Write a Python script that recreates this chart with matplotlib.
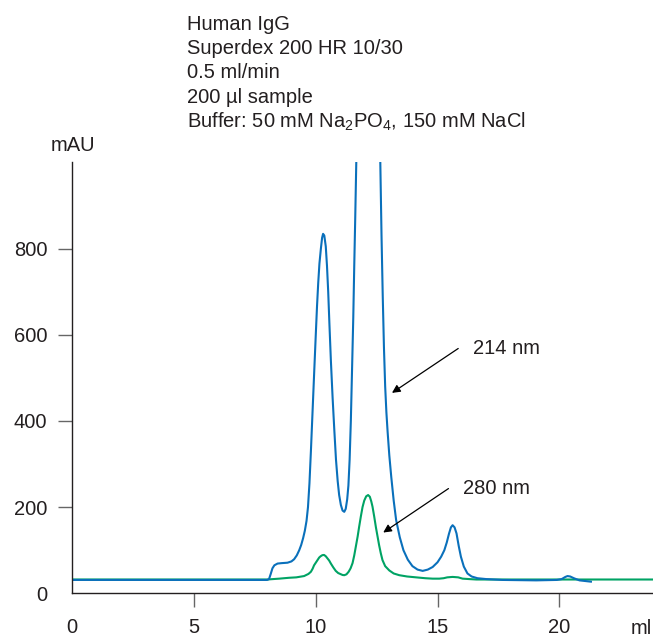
import matplotlib
matplotlib.use("Agg")
import matplotlib.pyplot as plt

plt.rcParams['font.family'] = ['Liberation Sans', 'DejaVu Sans']
plt.rcParams['mathtext.default'] = 'regular'

# =====================
# Data
# =====================
# 214 nm trace (blue)
ml_214 = [0, 8.0, 8.08, 8.15, 8.22, 8.3, 8.43, 8.6, 8.84, 9.0, 9.11, 9.22,
          9.32, 9.4, 9.48, 9.55, 9.62, 9.68, 9.74, 9.8, 9.87, 9.94, 10.0, 10.05,
          10.1, 10.15, 10.21, 10.26, 10.3, 10.35, 10.41, 10.46, 10.51, 10.56,
          10.62, 10.69, 10.76, 10.83, 10.9, 10.96, 11.03, 11.1, 11.17, 11.23,
          11.29, 11.34, 11.39, 11.44, 11.49, 11.54, 11.58, 11.62, 11.66, 11.7,
          11.8, 12.15, 12.5, 12.62, 12.65, 12.7, 12.75, 12.8, 12.85, 12.9,
          12.95, 13.02, 13.1, 13.2, 13.3, 13.45, 13.6, 13.78, 13.97, 14.18,
          14.39, 14.6, 14.8, 15.0, 15.15, 15.28, 15.38, 15.47, 15.55, 15.62,
          15.7, 15.78, 15.87, 15.96, 16.08, 16.23, 16.4, 16.64, 17.0, 17.67,
          19.05, 19.9, 20.1, 20.25, 20.34, 20.45, 20.6, 20.83, 21.3]
mau_214 = [31, 31, 33, 45, 58, 65, 69, 70, 71, 74, 79, 88,
           100, 112, 128, 145, 168, 200, 255, 330, 425, 520, 600, 665,
           720, 765, 800, 825, 834, 830, 805, 760, 700, 625,
           540, 455, 380, 310, 260, 228, 205, 192, 189, 196,
           218, 250, 310, 400, 520, 640, 760, 870, 990, 1100,
           1400, 1900, 1500, 1100, 1000, 830, 690, 570, 480, 420,
           375, 320, 270, 215, 170, 130, 100, 78, 63, 55,
           52, 55, 61, 72, 85, 100, 118, 138, 153, 158,
           153, 139, 110, 85, 62, 46, 39, 35, 33, 31,
           30, 31, 33, 38, 40, 39, 35, 30, 27]

# 280 nm trace (green)
ml_280 = [0, 8.0, 8.5, 8.9, 9.2, 9.52, 9.7, 9.8, 9.87, 9.93, 10.0, 10.07,
          10.14, 10.2, 10.27, 10.34, 10.41, 10.48, 10.55, 10.62, 10.72, 10.82,
          10.92, 11.0, 11.1, 11.17, 11.26, 11.35, 11.43, 11.51, 11.58, 11.65,
          11.72, 11.78, 11.85, 11.92, 11.99, 12.07, 12.15, 12.22, 12.28, 12.33,
          12.4, 12.47, 12.54, 12.6, 12.67, 12.74, 12.85, 13.02, 13.2, 13.43,
          13.75, 14.12, 14.5, 14.8, 15.07, 15.25, 15.4, 15.62, 15.85, 16.03,
          16.3, 16.6, 23.85]
mau_280 = [32, 32, 34, 36, 37, 40, 45, 50, 57, 65, 71, 77,
           83, 86, 88.5, 89, 86, 81, 76, 69, 60, 52,
           47, 45, 42.5, 42, 44, 50, 58, 70, 88, 110,
           132, 154, 178, 200, 215, 225, 228, 224, 213, 201,
           178, 153, 131, 112, 93, 77, 63, 53, 46, 42,
           39, 37, 35, 34, 34, 35, 37, 38, 37, 34,
           33, 32, 32]

x_ticks = [0, 5, 10, 15, 20]
y_ticks = [0, 200, 400, 600, 800]

header = ["Human IgG",
          "Superdex 200 HR 10/30",
          "0.5 ml/min",
          "200 µl sample",
          "Buffer: 50 mM Na$_2$PO$_4$, 150 mM NaCl"]

# =====================
# Plot
# =====================
W, H = 653, 637
txt = '#231f20'
fs = 14.5
fig = plt.figure(figsize=(W / 100, H / 100), dpi=100)
ax = fig.add_axes([72.3 / W, (H - 593.3) / H, (W - 72.3) / W, (593.3 - 162.3) / H])

ax.plot(ml_280, mau_280, color='#00a364', lw=1.5, solid_joinstyle='round')
ax.plot(ml_214, mau_214, color='#0a70bb', lw=1.5, solid_joinstyle='round')

ax.set_xlim(0, 23.85)
ax.set_ylim(0, 1000)
ax.set_xticks(x_ticks)
ax.set_yticks(y_ticks)
ax.spines['top'].set_visible(False)
ax.spines['right'].set_visible(False)
for s in ['left', 'bottom']:
    ax.spines[s].set_color(txt)
    ax.spines[s].set_linewidth(1.0)
ax.tick_params(length=10, width=1, color='#666666', pad=8,
               labelsize=fs, labelcolor=txt)
# no tick mark at the origin
ax.xaxis.get_major_ticks()[0].tick1line.set_visible(False)
ax.yaxis.get_major_ticks()[0].tick1line.set_visible(False)

# arrows + labels
arrow = dict(arrowstyle='-|>', color='black', lw=0.9, mutation_scale=12,
             shrinkA=0, shrinkB=0)
ax.annotate('', xy=(13.13, 465), xytext=(15.85, 568), arrowprops=arrow)
ax.text(16.44, 568, '214 nm', fontsize=fs, color=txt, va='center', ha='left')
ax.annotate('', xy=(12.77, 141), xytext=(15.45, 243), arrowprops=arrow)
ax.text(16.03, 243, '280 nm', fontsize=fs, color=txt, va='center', ha='left')

# header block
for i, line in enumerate(header):
    base = 29.5 + 24.5 * i
    fig.text(187 / W, 1 - base / H, line, fontsize=fs, color=txt,
             ha='left', va='baseline')

fig.text(73 / W, 1 - 151 / H, 'mAU', fontsize=fs, color=txt, ha='center', va='baseline')
fig.text(641 / W, 1 - 634 / H, 'ml', fontsize=fs, color=txt, ha='center', va='baseline')

fig.savefig('out.png', dpi=100)
